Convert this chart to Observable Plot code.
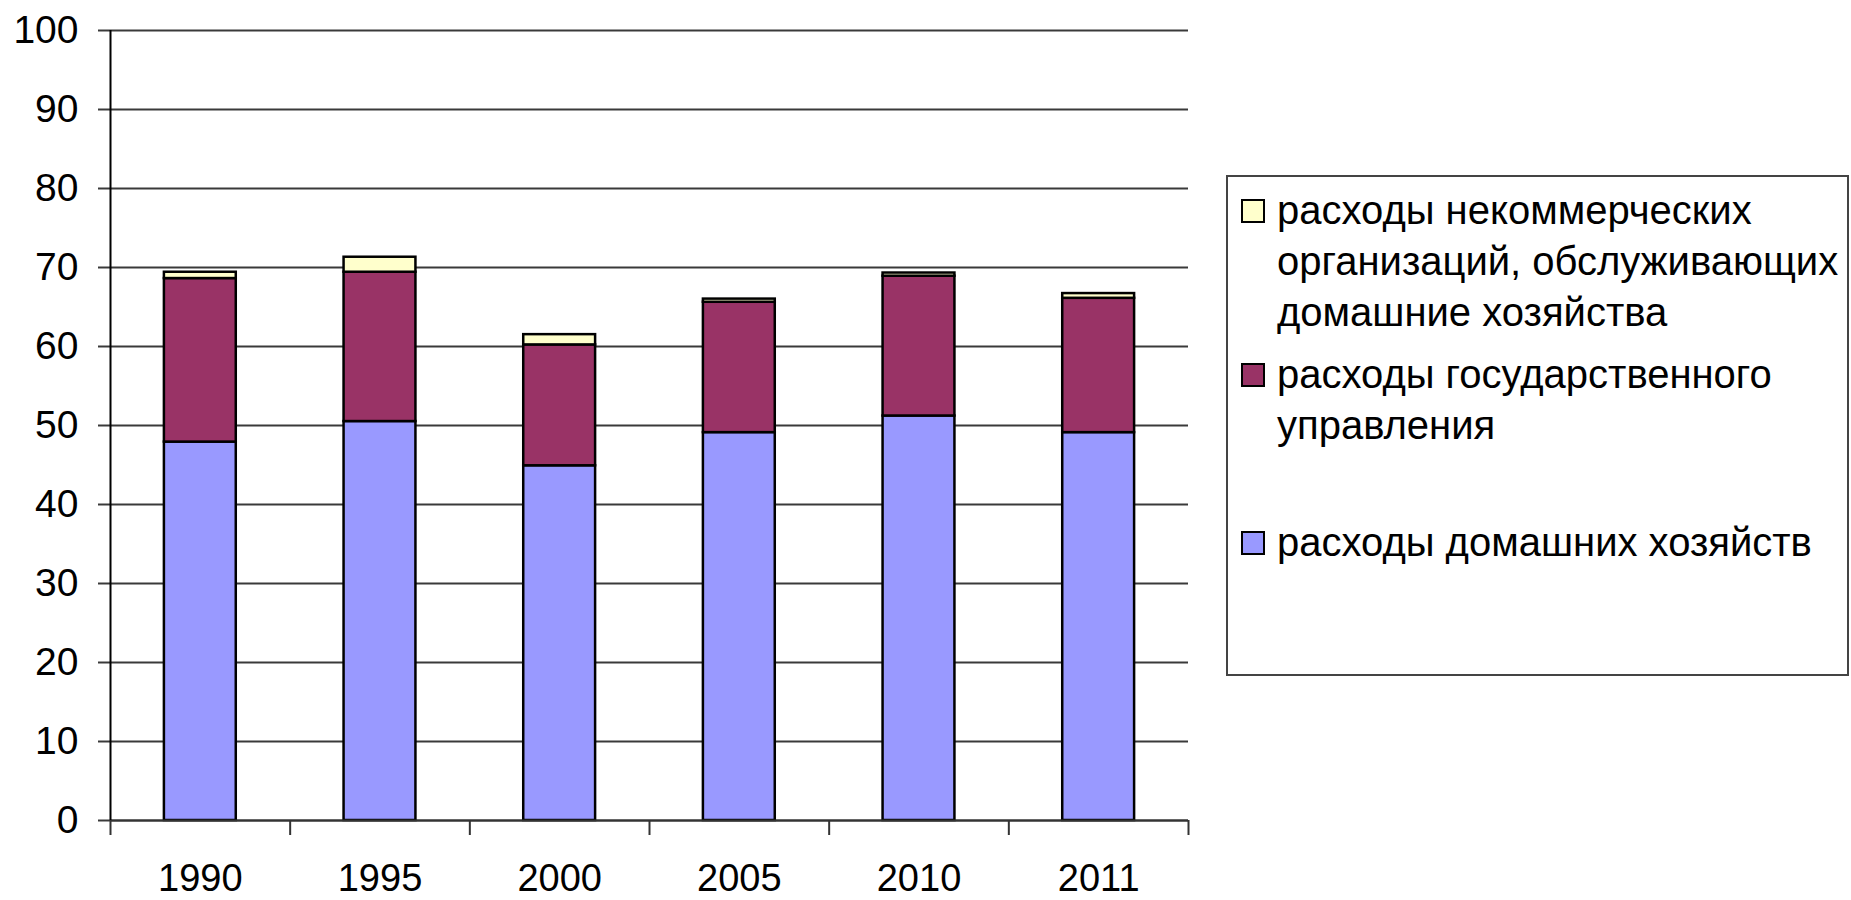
<!DOCTYPE html>
<html>
<head>
<meta charset="utf-8">
<script src="https://cdn.jsdelivr.net/npm/d3@7"></script>
<script src="https://cdn.jsdelivr.net/npm/@observablehq/plot@0.6"></script>
<style>
  html, body { margin: 0; padding: 0; background: #fff; }
  #wrap { position: relative; width: 1851px; height: 900px; overflow: hidden; font-family: "Liberation Sans", Arial, sans-serif; }
  #chart svg { display: block; }
  #legend { position: absolute; left: 1226px; top: 175px; width: 619px; height: 497px; border: 2px solid #444; box-sizing: content-box; background: #fff; }
  .entry { position: absolute; left: 0; font-size: 40px; line-height: 51px; color: #000; }
  .entry .sw { position: absolute; left: 13px; width: 20px; height: 20px; border: 2px solid #000; }
  .entry .tx { position: absolute; left: 49px; white-space: pre; }
</style>
</head>
<body>
<div id="wrap">
  <div id="chart"></div>
  <div id="legend"></div>
</div>
<script>
// ---- data ----
const years = ["1990", "1995", "2000", "2005", "2010", "2011"];
const households = [47.9, 50.5, 44.9, 49.1, 51.2, 49.1];
const government = [20.7, 18.9, 15.3, 16.5, 17.7, 17.0];
const npish = [0.8, 1.9, 1.3, 0.4, 0.4, 0.6];
const seriesNames = [
  "расходы домашних хозяйств",
  "расходы государственного управления",
  "расходы некоммерческих организаций, обслуживающих домашние хозяйства"
];
const legendLabels = [
  "расходы некоммерческих\nорганизаций, обслуживающих\nдомашние хозяйства",
  "расходы государственного\nуправления",
  "расходы домашних хозяйств"
];
const seriesColors = ["#9999FF", "#993366", "#FFFFCC"];
const yTicks = [0, 10, 20, 30, 40, 50, 60, 70, 80, 90, 100];

// ---- table built from the arrays ----
const seriesValues = [households, government, npish];
const rows = [];
years.forEach((yr, i) => {
  let base = 0;
  seriesValues.forEach((vals, s) => {
    rows.push({i, year: yr, series: seriesNames[s], y1: base, y2: base + vals[i]});
    base += vals[i];
  });
});

const half = 0.2;
const chart = Plot.plot({
  width: 1200,
  height: 900,
  marginLeft: 110,
  marginRight: 12,
  marginTop: 30,
  marginBottom: 80,
  style: {fontFamily: "'Liberation Sans', Arial, sans-serif", fontSize: "38px", color: "#000", background: "#fff", overflow: "visible"},
  x: {type: "linear", domain: [-0.5, years.length - 0.5], axis: null},
  y: {domain: [0, 100], axis: null},
  color: {domain: seriesNames, range: seriesColors},
  marks: [
    Plot.ruleY(yTicks, {stroke: "#3a3a3a", strokeWidth: 2}),
    Plot.axisY({ticks: yTicks, tickSize: 12, tickPadding: 20, tickFormat: d => String(d), stroke: "#3a3a3a", strokeWidth: 2, fill: "#000", fontSize: 39}),
    Plot.rectY(rows, {x1: d => d.i - half, x2: d => d.i + half, y1: "y1", y2: "y2", fill: "series", stroke: "#000", strokeWidth: 2.5}),
    Plot.ruleY([0], {stroke: "#333", strokeWidth: 2}),
    Plot.ruleX([-0.5], {y1: 0, y2: 100, stroke: "#000", strokeWidth: 2}),
    Plot.axisX({ticks: d3.range(years.length + 1).map(i => i - 0.5), tickSize: 15, tickFormat: () => "", stroke: "#333", strokeWidth: 2}),
    Plot.axisX({ticks: d3.range(years.length), tickSize: 0, tickPadding: 44, tickFormat: i => years[i], fill: "#000", fontSize: 38})
  ]
});
document.getElementById("chart").appendChild(chart);

// ---- legend ----
const legend = document.getElementById("legend");
const legendColors = [seriesColors[2], seriesColors[1], seriesColors[0]];
const entryTops = [8, 172, 340];
legendLabels.forEach((lab, k) => {
  const e = document.createElement("div");
  e.className = "entry";
  e.style.top = entryTops[k] + "px";
  const sw = document.createElement("div");
  sw.className = "sw";
  sw.style.background = legendColors[k];
  sw.style.top = "14px";
  const tx = document.createElement("div");
  tx.className = "tx";
  tx.textContent = lab;
  e.appendChild(sw);
  e.appendChild(tx);
  legend.appendChild(e);
});
</script>
</body>
</html>
